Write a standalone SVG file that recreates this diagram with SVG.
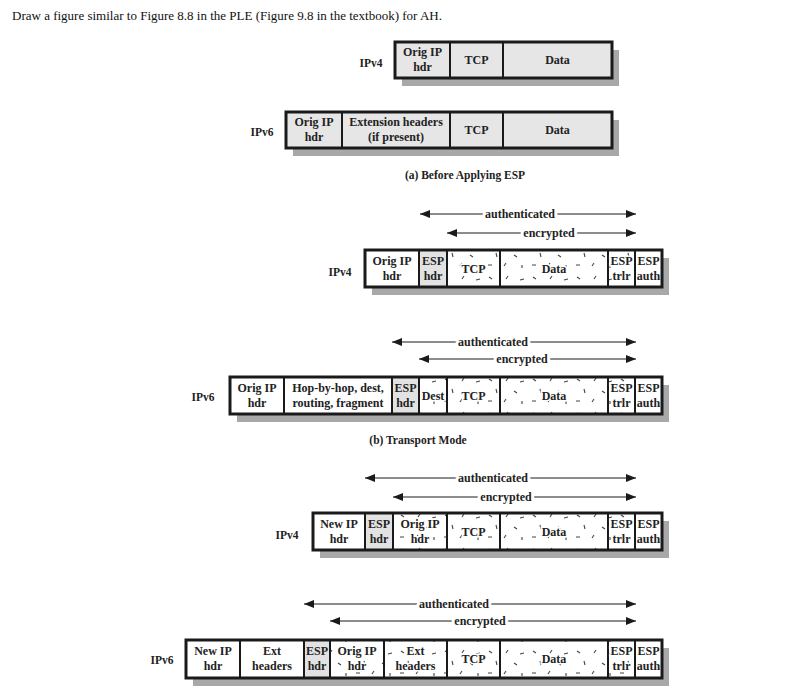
<svg xmlns="http://www.w3.org/2000/svg" width="796" height="695" viewBox="0 0 796 695">
<style>
.bg{fill:#ffffff}
.title{font-family:"Liberation Serif","Times New Roman",serif;font-size:13px;fill:#111}
.t{font-family:"Liberation Serif","Times New Roman",serif;font-weight:bold;font-size:12px;fill:#222;text-anchor:middle}
.te{paint-order:stroke;stroke:#fff;stroke-width:3px}
.lbl{font-family:"Liberation Serif","Times New Roman",serif;font-weight:bold;font-size:11.5px;fill:#222;text-anchor:middle}
.al{font-family:"Liberation Serif","Times New Roman",serif;font-weight:bold;font-size:12px;fill:#222;text-anchor:middle;paint-order:stroke;stroke:#fff;stroke-width:6px}
.shadow{fill:#a8a8a8}
.c{stroke:#1a1a1a;stroke-width:2}
.g{fill:#e6e6e6}
.w{fill:#ffffff}
.esp{fill:#e2e2e2}
.enc{fill:url(#dash)}
.frame{fill:none;stroke:#1a1a1a;stroke-width:3}
.arr{stroke:#1a1a1a;stroke-width:1;fill:none;marker-start:url(#hs);marker-end:url(#he)}
</style>
<defs>
<marker id="he" viewBox="0 0 10 8" refX="10" refY="4" markerWidth="10" markerHeight="8" markerUnits="userSpaceOnUse" orient="auto"><path d="M0 0 L10 4 L0 8 Z" fill="#1a1a1a"/></marker>
<marker id="hs" viewBox="0 0 10 8" refX="0" refY="4" markerWidth="10" markerHeight="8" markerUnits="userSpaceOnUse" orient="auto"><path d="M10 0 L0 4 L10 8 Z" fill="#1a1a1a"/></marker>
<pattern id="dash" width="44" height="34" patternUnits="userSpaceOnUse">
<rect width="44" height="34" fill="#fff"/>
<path d="M5 5 l3 2 M24 4 l-2 3 M36 8 l4 -1 M12 15 l1 4 M30 17 l3 2 M4 27 l4 0 M20 28 l2 -3 M38 27 l0 3" stroke="#444" stroke-width="1.1" fill="none"/>
</pattern>
</defs>
<rect class="bg" x="0" y="0" width="796" height="695"/>
<text class="title" x="12" y="20">Draw a figure similar to Figure 8.8 in the PLE (Figure 9.8 in the textbook) for AH.</text>

<!-- (a) IPv4 -->
<g id="a-ipv4">
<text class="lbl" x="371" y="67">IPv4</text>
<rect class="shadow" x="402" y="50" width="217" height="36"/>
<g id="a4-origip"><rect class="c g" x="395" y="42" width="55" height="36"/><text class="t" x="422.5" y="56">Orig IP</text><text class="t" x="422.5" y="71">hdr</text></g>
<g id="a4-tcp"><rect class="c g" x="450" y="42" width="53" height="36"/><text class="t" x="476.5" y="64">TCP</text></g>
<g id="a4-data"><rect class="c g" x="503" y="42" width="109" height="36"/><text class="t" x="557.5" y="64">Data</text></g>
<rect class="frame" x="395" y="42" width="217" height="36"/>
</g>

<!-- (a) IPv6 -->
<g id="a-ipv6">
<text class="lbl" x="262" y="136">IPv6</text>
<rect class="shadow" x="293" y="120" width="326" height="36"/>
<g id="a6-origip"><rect class="c g" x="286" y="112" width="56" height="36"/><text class="t" x="314" y="126">Orig IP</text><text class="t" x="314" y="141">hdr</text></g>
<g id="a6-ext"><rect class="c g" x="342" y="112" width="108" height="36"/><text class="t" x="396" y="126">Extension headers</text><text class="t" x="396" y="141">(if present)</text></g>
<g id="a6-tcp"><rect class="c g" x="450" y="112" width="53" height="36"/><text class="t" x="476.5" y="134">TCP</text></g>
<g id="a6-data"><rect class="c g" x="503" y="112" width="109" height="36"/><text class="t" x="557.5" y="134">Data</text></g>
<rect class="frame" x="286" y="112" width="326" height="36"/>
</g>
<text class="lbl" x="465" y="179">(a) Before Applying ESP</text>

<!-- connectors -->
<g id="connectors">
<line class="arr" x1="420" y1="214" x2="636" y2="214"/>
<line class="arr" x1="447" y1="233" x2="636" y2="233"/>
<line class="arr" x1="392" y1="342" x2="636" y2="342"/>
<line class="arr" x1="419" y1="359" x2="636" y2="359"/>
<line class="arr" x1="365" y1="478" x2="636" y2="478"/>
<line class="arr" x1="393" y1="497" x2="636" y2="497"/>
<line class="arr" x1="304" y1="604" x2="636" y2="604"/>
<line class="arr" x1="330" y1="621" x2="636" y2="621"/>
<text class="al" x="520" y="218">authenticated</text>
<text class="al" x="549" y="237">encrypted</text>
<text class="al" x="493" y="346">authenticated</text>
<text class="al" x="522" y="363">encrypted</text>
<text class="al" x="493" y="482">authenticated</text>
<text class="al" x="506" y="501">encrypted</text>
<text class="al" x="454" y="608">authenticated</text>
<text class="al" x="480" y="625">encrypted</text>
</g>

<!-- (b) IPv4 -->
<g id="b-ipv4">
<text class="lbl" x="340" y="276">IPv4</text>
<rect class="shadow" x="372" y="258" width="297" height="37"/>
<g id="b4-origip"><rect class="c w" x="365" y="250" width="54" height="37"/><text class="t" x="392" y="265">Orig IP</text><text class="t" x="392" y="280">hdr</text></g>
<g id="b4-esphdr"><rect class="c esp" x="419" y="250" width="28" height="37"/><text class="t" x="433" y="265">ESP</text><text class="t" x="433" y="280">hdr</text></g>
<g id="b4-tcp"><rect class="c enc" x="447" y="250" width="53" height="37"/><text class="t te" x="473.5" y="273">TCP</text></g>
<g id="b4-data"><rect class="c enc" x="500" y="250" width="108" height="37"/><text class="t te" x="554" y="273">Data</text></g>
<g id="b4-esptrlr"><rect class="c enc" x="608" y="250" width="27" height="37"/><text class="t te" x="621.5" y="265">ESP</text><text class="t te" x="621.5" y="280">trlr</text></g>
<g id="b4-espauth"><rect class="c w" x="635" y="250" width="27" height="37"/><text class="t" x="648.5" y="265">ESP</text><text class="t" x="648.5" y="280">auth</text></g>
<rect class="frame" x="365" y="250" width="297" height="37"/>
</g>

<!-- (b) IPv6 -->
<g id="b-ipv6">
<text class="lbl" x="203" y="401">IPv6</text>
<rect class="shadow" x="237" y="385" width="432" height="37"/>
<g id="b6-origip"><rect class="c w" x="230" y="377" width="54" height="37"/><text class="t" x="257" y="392">Orig IP</text><text class="t" x="257" y="407">hdr</text></g>
<g id="b6-hop"><rect class="c w" x="284" y="377" width="108" height="37"/><text class="t" x="338" y="392">Hop-by-hop, dest,</text><text class="t" x="338" y="407">routing, fragment</text></g>
<g id="b6-esphdr"><rect class="c esp" x="392" y="377" width="27" height="37"/><text class="t" x="405.5" y="392">ESP</text><text class="t" x="405.5" y="407">hdr</text></g>
<g id="b6-dest"><rect class="c enc" x="419" y="377" width="28" height="37"/><text class="t te" x="433" y="400">Dest</text></g>
<g id="b6-tcp"><rect class="c enc" x="447" y="377" width="53" height="37"/><text class="t te" x="473.5" y="400">TCP</text></g>
<g id="b6-data"><rect class="c enc" x="500" y="377" width="108" height="37"/><text class="t te" x="554" y="400">Data</text></g>
<g id="b6-esptrlr"><rect class="c enc" x="608" y="377" width="27" height="37"/><text class="t te" x="621.5" y="392">ESP</text><text class="t te" x="621.5" y="407">trlr</text></g>
<g id="b6-espauth"><rect class="c w" x="635" y="377" width="27" height="37"/><text class="t" x="648.5" y="392">ESP</text><text class="t" x="648.5" y="407">auth</text></g>
<rect class="frame" x="230" y="377" width="432" height="37"/>
</g>
<text class="lbl" x="418" y="444">(b) Transport Mode</text>

<!-- (c) IPv4 -->
<g id="c-ipv4">
<text class="lbl" x="287" y="539">IPv4</text>
<rect class="shadow" x="320" y="521" width="349" height="37"/>
<g id="c4-newip"><rect class="c w" x="313" y="513" width="52" height="37"/><text class="t" x="339" y="528">New IP</text><text class="t" x="339" y="543">hdr</text></g>
<g id="c4-esphdr"><rect class="c esp" x="365" y="513" width="28" height="37"/><text class="t" x="379" y="528">ESP</text><text class="t" x="379" y="543">hdr</text></g>
<g id="c4-origip"><rect class="c enc" x="393" y="513" width="54" height="37"/><text class="t te" x="420" y="528">Orig IP</text><text class="t te" x="420" y="543">hdr</text></g>
<g id="c4-tcp"><rect class="c enc" x="447" y="513" width="53" height="37"/><text class="t te" x="473.5" y="536">TCP</text></g>
<g id="c4-data"><rect class="c enc" x="500" y="513" width="108" height="37"/><text class="t te" x="554" y="536">Data</text></g>
<g id="c4-esptrlr"><rect class="c enc" x="608" y="513" width="27" height="37"/><text class="t te" x="621.5" y="528">ESP</text><text class="t te" x="621.5" y="543">trlr</text></g>
<g id="c4-espauth"><rect class="c w" x="635" y="513" width="27" height="37"/><text class="t" x="648.5" y="528">ESP</text><text class="t" x="648.5" y="543">auth</text></g>
<rect class="frame" x="313" y="513" width="349" height="37"/>
</g>

<!-- (c) IPv6 -->
<g id="c-ipv6">
<text class="lbl" x="162" y="664">IPv6</text>
<rect class="shadow" x="193" y="648" width="476" height="38"/>
<g id="c6-newip"><rect class="c w" x="186" y="640" width="54" height="38"/><text class="t" x="213" y="655">New IP</text><text class="t" x="213" y="670">hdr</text></g>
<g id="c6-ext"><rect class="c w" x="240" y="640" width="64" height="38"/><text class="t" x="272" y="655">Ext</text><text class="t" x="272" y="670">headers</text></g>
<g id="c6-esphdr"><rect class="c esp" x="304" y="640" width="26" height="38"/><text class="t" x="317" y="655">ESP</text><text class="t" x="317" y="670">hdr</text></g>
<g id="c6-origip"><rect class="c enc" x="330" y="640" width="54" height="38"/><text class="t te" x="357" y="655">Orig IP</text><text class="t te" x="357" y="670">hdr</text></g>
<g id="c6-ext2"><rect class="c enc" x="384" y="640" width="63" height="38"/><text class="t te" x="415.5" y="655">Ext</text><text class="t te" x="415.5" y="670">headers</text></g>
<g id="c6-tcp"><rect class="c enc" x="447" y="640" width="53" height="38"/><text class="t te" x="473.5" y="663">TCP</text></g>
<g id="c6-data"><rect class="c enc" x="500" y="640" width="108" height="38"/><text class="t te" x="554" y="663">Data</text></g>
<g id="c6-esptrlr"><rect class="c enc" x="608" y="640" width="27" height="38"/><text class="t te" x="621.5" y="655">ESP</text><text class="t te" x="621.5" y="670">trlr</text></g>
<g id="c6-espauth"><rect class="c w" x="635" y="640" width="27" height="38"/><text class="t" x="648.5" y="655">ESP</text><text class="t" x="648.5" y="670">auth</text></g>
<rect class="frame" x="186" y="640" width="476" height="38"/>
</g>
</svg>
